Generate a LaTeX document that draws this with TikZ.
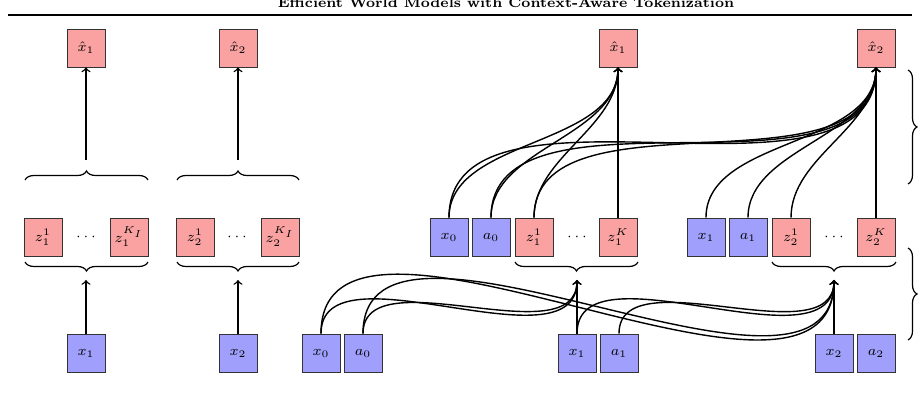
\documentclass[tikz,border=0pt]{standalone}
\usetikzlibrary{decorations.pathreplacing}
\definecolor{bl}{RGB}{160,160,252}
\definecolor{rd}{RGB}{250,162,162}
\begin{document}
\begin{tikzpicture}[x=0.5pt,y=-0.5pt,
  box/.style={draw=black!80,line width=0.4pt,minimum size=19pt,inner sep=0pt,font=\scriptsize},
  bb/.style={box,fill=bl}, rb/.style={box,fill=rd},
  dt/.style={font=\scriptsize,inner sep=0pt},
  brc/.style={decorate,decoration={brace,amplitude=4.5pt},line width=0.6pt},
  ar/.style={->,line width=0.7pt},
  cv/.style={line width=0.7pt,->,out=90,in=-90,looseness=0.9}]
\useasboundingbox (0,0) rectangle (920,400);
\node[font=\fontsize{7}{8}\selectfont\bfseries] (title) at (506,3) {Efficient World Models with Context-Aware Tokenization};
\coordinate (l1) at (8,15); \coordinate (l2) at (912,15);
\draw[line width=1pt] (l1) -- (l2);
% left part
\node[rb] (h1) at (86,48) {$\hat{x}_1$};
\node[rb] (h2) at (238,48) {$\hat{x}_2$};
\node[rb] (lz11) at (43,237) {$z_1^1$};
\node[dt] (ld1) at (86,237) {$\cdots$};
\node[rb] (lz1K) at (129,237) {$z_1^{K_I}$};
\node[rb] (lz21) at (195,237) {$z_2^1$};
\node[dt] (ld2) at (237,237) {$\cdots$};
\node[rb] (lz2K) at (280,237) {$z_2^{K_I}$};
\node[bb] (lx1) at (86,353) {$x_1$};
\node[bb] (lx2) at (238,353) {$x_2$};
\coordinate (a1) at (25,180); \coordinate (a2) at (148,180);
\coordinate (b1) at (25,262); \coordinate (b2) at (148,262);
\coordinate (c1) at (177,180); \coordinate (c2) at (299,180);
\coordinate (d1) at (177,262); \coordinate (d2) at (299,262);
\draw[brc] (a1) -- (a2); \draw[brc] (b2) -- (b1);
\draw[brc] (c1) -- (c2); \draw[brc] (d2) -- (d1);
\coordinate (ta1) at (86,160); \coordinate (tb1) at (86,280);
\coordinate (ta2) at (238,160); \coordinate (tb2) at (238,280);
\draw[ar] (ta1) -- (h1); \draw[ar] (lx1) -- (tb1);
\draw[ar] (ta2) -- (h2); \draw[ar] (lx2) -- (tb2);
% right top row
\node[rb] (H1) at (618,48) {$\hat{x}_1$};
\node[rb] (H2) at (876,48) {$\hat{x}_2$};
\node[bb] (X0) at (449,237) {$x_0$};
\node[bb] (A0) at (491,237) {$a_0$};
\node[rb] (Z11) at (534,237) {$z_1^1$};
\node[dt] (D1) at (577,237) {$\cdots$};
\node[rb] (Z1K) at (618,237) {$z_1^K$};
\node[bb] (X1) at (706,237) {$x_1$};
\node[bb] (A1) at (748,237) {$a_1$};
\node[rb] (Z21) at (791,237) {$z_2^1$};
\node[dt] (D2) at (834,237) {$\cdots$};
\node[rb] (Z2K) at (876,237) {$z_2^K$};
\foreach \s in {X0,A0,Z11}{
  \draw[cv] (\s.north) to (H1.south);
  \draw[cv] (\s.north) to (H2.south);}
\draw[ar] (Z1K) -- (H1);
\foreach \s in {X1,A1,Z21}{\draw[cv] (\s.north) to (H2.south);}
\draw[ar] (Z2K) -- (H2);
% braces under z rows
\coordinate (e1) at (515,262); \coordinate (e2) at (638,262);
\coordinate (f1) at (772,262); \coordinate (f2) at (896,262);
\draw[brc] (e2) -- (e1); \draw[brc] (f2) -- (f1);
\coordinate (T1) at (577,280); \coordinate (T2) at (834,280);
% bottom row
\node[bb] (BX0) at (321,353) {$x_0$};
\node[bb] (BA0) at (363,353) {$a_0$};
\node[bb] (BX1) at (577,353) {$x_1$};
\node[bb] (BA1) at (619,353) {$a_1$};
\node[bb] (BX2) at (834,353) {$x_2$};
\node[bb] (BA2) at (876,353) {$a_2$};
\foreach \s in {BX0,BA0}{
  \draw[cv] (\s.north) to (T1);
  \draw[cv] (\s.north) to (T2);}
\draw[ar] (BX1) -- (T1);
\foreach \s in {BX1,BA1}{\draw[cv] (\s.north) to (T2);}
\draw[ar] (BX2) -- (T2);
% right-side braces
\coordinate (g1) at (908,70); \coordinate (g2) at (908,184);
\coordinate (k1) at (908,248); \coordinate (k2) at (908,340);
\draw[brc] (g1) -- (g2); \draw[brc] (k1) -- (k2);
\end{tikzpicture}
\end{document}
